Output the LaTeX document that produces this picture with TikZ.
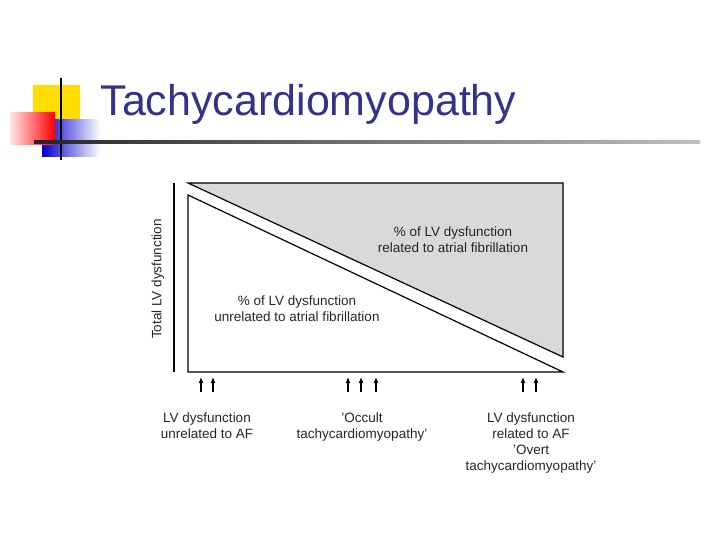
\documentclass[tikz,border=0pt]{standalone}
\usepackage{fontspec}
\setmainfont{Liberation Sans}
\usetikzlibrary{arrows.meta}
\begin{document}
\begin{tikzpicture}[x=1pt,y=-1pt,
  lbl/.style={font=\fontsize{13.5}{16}\selectfont,align=center,text=black!85},
  ln/.style={line width=1.2pt},
  up/.style={-{Latex[length=6pt,width=5pt]},line width=1.2pt}]
\useasboundingbox (0,0) rectangle (720,540);
% logo
\fill[yellow!80!orange] (33,85) rectangle (80,120);
\shade[left color=blue!80!black, right color=white] (42,120) rectangle (100,157);
\shade[left color=red!10, right color=red] (10,113) rectangle (55,145);
\draw[line width=2pt] (61,78) -- (61,160);
\shade[left color=black!85, right color=black!25] (34,141) rectangle (700,143.5);
\node[anchor=west,text={rgb,255:red,51;green,51;blue,140},font=\fontsize{43}{45}\selectfont] (title) at (97,104) {Tachycardiomyopathy};
% chart
\coordinate (a) at (174,183); \coordinate (b) at (174,372);
\draw[line width=2pt] (a) -- (b);
\fill[black!15] (188,183) -- (563,183) -- (563,357) -- cycle;
\draw[ln] (188,183) -- (563,183) -- (563,357) -- cycle;
\draw[ln] (188,195) -- (563,372) -- (188,372) -- cycle;
\node[lbl] (r) at (453,240) {\% of LV dysfunction\\related to atrial fibrillation};
\node[lbl] (u) at (297,309) {\% of LV dysfunction\\unrelated to atrial fibrillation};
\node[lbl,rotate=90] (y) at (158,279) {Total LV dysfunction};
\foreach \x in {201,213,348,361,376,523,536}
  \draw[up] (\x,392) -- (\x,377);
\node[lbl,anchor=north] (l1) at (207,409) {LV dysfunction\\unrelated to AF};
\node[lbl,anchor=north] (l2) at (362,409) {'Occult\\tachycardiomyopathy'};
\node[lbl,anchor=north] (l3) at (531,409) {LV dysfunction\\related to AF\\'Overt\\tachycardiomyopathy'};
\end{tikzpicture}
\end{document}
